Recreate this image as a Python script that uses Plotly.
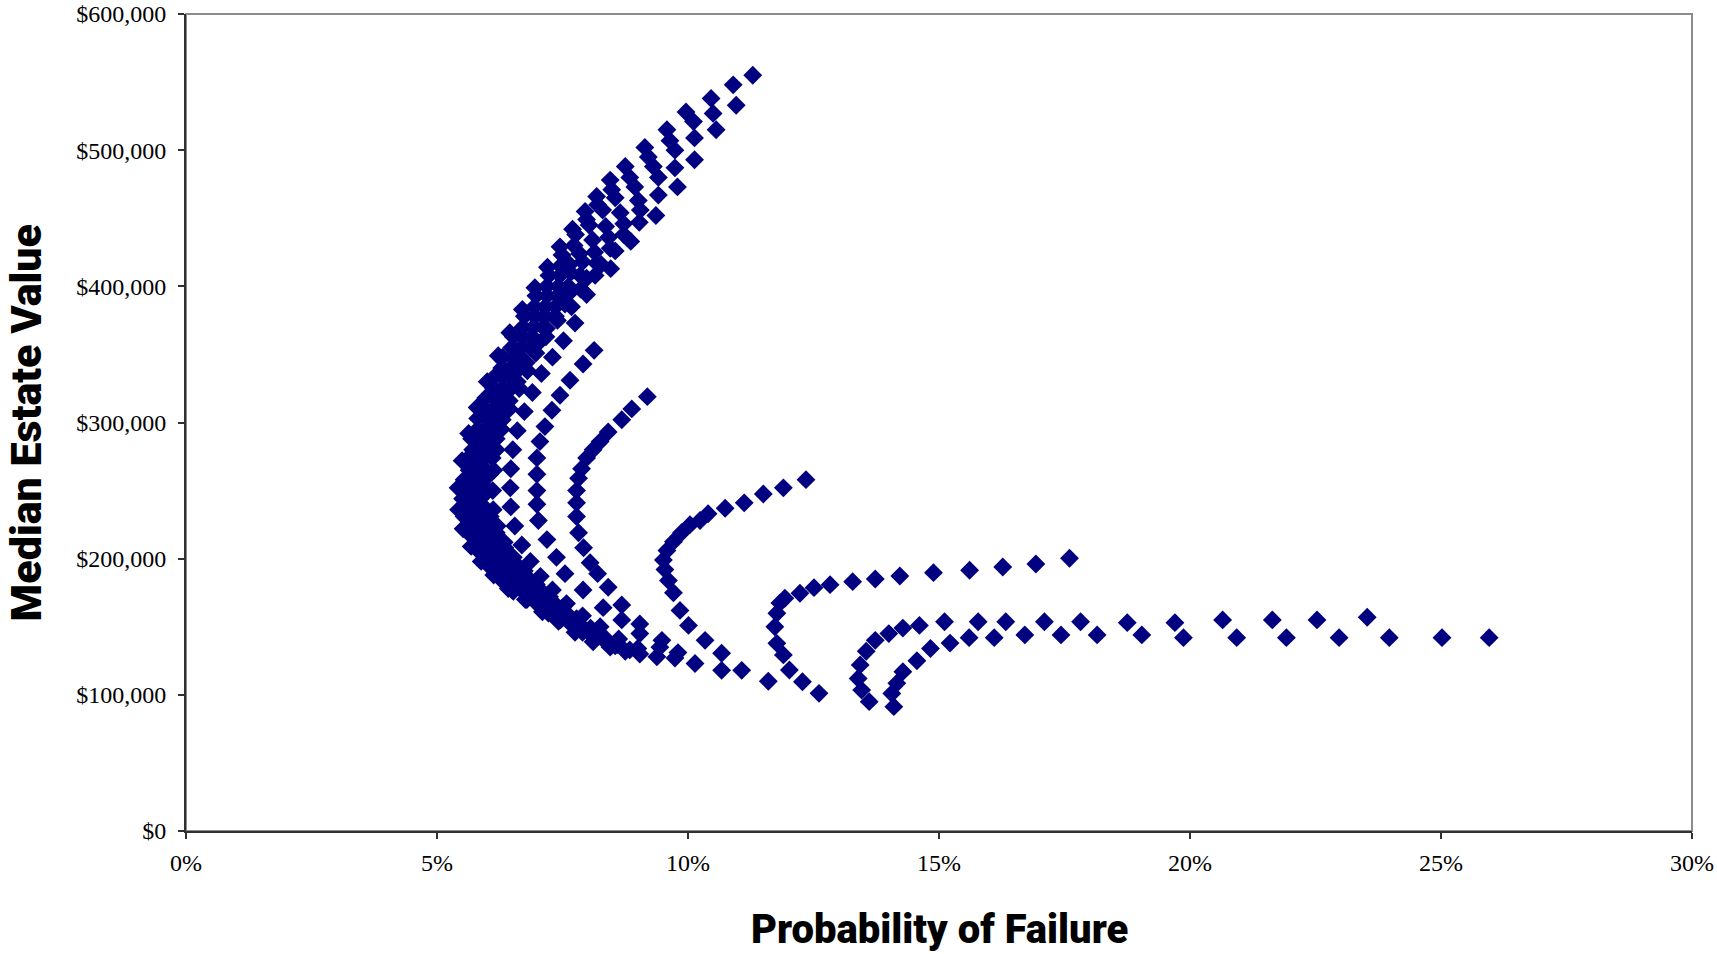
import plotly.graph_objects as go

# ---- data: probability of failure (%) and median estate value ($ thousands), one list pair per curve ----
pf_I0 = [11.29, 10.90, 10.46, 9.96, 9.58, 9.14, 8.75, 8.45, 8.18, 7.95, 7.70, 7.45, 7.20, 6.95, 6.70, 6.45, 6.22, 6.00,
         5.80, 5.63, 5.50, 5.42, 5.43, 5.52, 5.68, 5.88, 6.13, 6.42]
est_I0 = [555, 548, 538, 528, 515, 502, 488, 478, 466, 455, 442, 429, 414, 399, 383, 366, 349, 330,
          311, 292, 272, 252, 236, 222, 209, 198, 188, 178]

pf_I1 = [10.96, 10.50, 10.11, 9.64, 9.21, 8.84, 8.48, 8.20, 7.98, 7.76, 7.49, 7.23, 6.97, 6.74, 6.52, 6.31, 6.13,
         5.97, 5.81, 5.69, 5.60, 5.54, 5.51, 5.54, 5.65, 5.82, 6.03, 6.27, 6.52, 6.76]
est_I1 = [533, 527, 521, 507, 495, 480, 471, 460, 449, 438, 423, 408, 393, 378, 363, 348, 333,
          318, 303, 288, 273, 258, 244, 231, 218, 206, 195, 185, 176, 170]

pf_I2 = [10.56, 10.13, 9.74, 9.31, 8.94, 8.55, 8.30, 8.03, 7.73, 7.46, 7.19, 6.94, 6.71, 6.49, 6.29, 6.13, 5.96, 5.81,
         5.71, 5.64, 5.60, 5.61, 5.70, 5.84, 6.02, 6.24, 6.50, 6.79, 7.10]
est_I2 = [515, 509, 500, 488, 473, 465, 456, 445, 430, 415, 400, 385, 370, 355, 340, 325, 310, 295,
          280, 265, 250, 237, 224, 212, 200, 189, 179, 170, 161]

pf_I3 = [10.13, 9.74, 9.41, 9.01, 8.65, 8.36, 8.10, 7.84, 7.64, 7.45, 7.19, 6.95, 6.71, 6.50, 6.31, 6.14, 5.98,
         5.85, 5.77, 5.71, 5.69, 5.72, 5.84, 6.01, 6.21, 6.45, 6.71, 6.99, 7.22, 7.42]
est_I3 = [493, 487, 480, 463, 454, 444, 434, 424, 416, 408, 393, 378, 363, 348, 333, 318, 303,
          288, 273, 258, 244, 231, 218, 206, 195, 185, 176, 167, 160, 154]

pf_I4 = [9.79, 9.41, 9.05, 8.72, 8.42, 8.14, 7.90, 7.66, 7.42, 7.16, 6.92, 6.68, 6.47, 6.30, 6.13, 5.98, 5.88, 5.81,
         5.77, 5.78, 5.87, 6.01, 6.19, 6.41, 6.65, 6.91, 7.18, 7.46, 7.75]
est_I4 = [473, 467, 456, 446, 436, 425, 418, 410, 400, 385, 370, 355, 340, 325, 310, 295, 280, 265,
          250, 237, 225, 213, 202, 191, 181, 172, 163, 155, 146]

pf_I5 = [9.36, 9.03, 8.72, 8.45, 8.18, 7.85, 7.62, 7.40, 7.14, 6.90, 6.67, 6.48, 6.31, 6.14, 6.00, 5.92, 5.88, 5.86,
         5.89, 6.01, 6.18, 6.38, 6.61, 6.86, 7.12, 7.38, 7.64, 7.90, 8.11]
est_I5 = [452, 447, 438, 428, 417, 408, 400, 393, 378, 363, 348, 333, 318, 303, 288, 273, 258, 244,
          231, 219, 207, 197, 187, 178, 169, 161, 153, 146, 139]

pf_I6 = [8.86, 8.55, 8.27, 7.98, 7.66, 7.36, 7.11, 6.86, 6.65, 6.47, 6.29, 6.13, 6.03, 5.97, 5.94,
         5.96, 6.04, 6.18, 6.36, 6.58, 6.82, 7.08, 7.34, 7.60, 7.85, 8.10, 8.45]
est_I6 = [433, 426, 416, 406, 396, 385, 370, 355, 340, 325, 310, 295, 280, 265, 250,
          237, 225, 213, 202, 192, 182, 173, 165, 157, 150, 143, 135]

pf_I7 = [8.46, 8.15, 7.86, 7.55, 7.36, 7.18, 6.98, 6.78, 6.60, 6.44, 6.30, 6.18, 6.10, 6.05, 6.02,
         6.06, 6.18, 6.35, 6.55, 6.78, 7.03, 7.29, 7.55, 7.81, 8.07, 8.33, 8.55, 8.75]
est_I7 = [413, 408, 398, 387, 378, 369, 357, 344, 330, 316, 302, 288, 274, 262, 250,
          231, 219, 208, 197, 187, 178, 169, 161, 153, 146, 140, 136, 132]

pf_I8 = [7.98, 7.68, 7.40, 7.17, 6.97, 6.80, 6.64, 6.44, 6.28, 6.18, 6.13, 6.11,
         6.12, 6.20, 6.34, 6.52, 6.74, 6.98, 7.24, 7.50, 7.78, 8.06, 8.34, 8.60, 8.84, 9.04]
est_I8 = [394, 385, 375, 363, 351, 338, 325, 310, 295, 280, 265, 250,
          236, 224, 212, 201, 191, 181, 172, 164, 156, 149, 142, 137, 133, 130]

pf_I9 = [7.75, 7.52, 7.30, 7.08, 6.90, 6.74, 6.60, 6.51, 6.47, 6.46,
         6.47, 6.55, 6.69, 6.86, 7.06, 7.30, 7.58, 7.90, 8.25, 8.62, 9.00, 9.38]
est_I9 = [373, 360, 348, 336, 322, 308, 294, 280, 266, 252,
          238, 224, 210, 198, 187, 177, 167, 158, 150, 141, 134, 128]

pf_A = [8.13, 7.91, 7.65, 7.45, 7.29, 7.15, 7.05, 6.99, 6.99, 6.99, 6.99, 7.02, 7.19, 7.38, 7.55, 7.91, 8.31,
        8.68, 9.04, 9.44, 9.74]
est_A = [353, 343, 331, 320, 309, 297, 286, 274, 262, 250, 240, 228, 214, 201, 189, 177, 164,
         155, 145, 135, 127]

pf_B = [9.19, 8.88, 8.68, 8.41, 8.25, 8.11, 7.98, 7.88, 7.82, 7.78, 7.78, 7.78, 7.82, 7.92, 8.05, 8.20, 8.41,
        8.68, 9.04, 9.48, 9.80, 10.14, 10.67]
est_B = [319, 310, 302, 293, 286, 280, 274, 266, 259, 250, 241, 231, 219, 208, 197, 189, 179,
         166, 152, 140, 131, 123, 118]

pf_C = [12.35, 11.90, 11.50, 11.12, 10.74, 10.40, 10.24, 10.04, 9.87, 9.71, 9.58, 9.51, 9.54, 9.61, 9.71, 9.84,
        10.01, 10.34, 10.67, 11.07, 11.60]
est_C = [258, 252, 247.5, 241, 237, 233, 228, 225, 219, 212.5, 206, 199, 192, 184, 175, 162,
         151, 140, 130.5, 118, 110]

pf_D = [17.60, 16.93, 16.27, 15.61, 14.89, 14.22, 13.73, 13.28, 12.83, 12.51, 12.23, 11.93, 11.83, 11.77, 11.73,
        11.77, 11.90, 12.02, 12.28, 12.61]
est_D = [200.3, 196.1, 193.9, 191.5, 189.7, 187.3, 185.1, 183.1, 180.9, 178.7, 174.6, 170.9, 167.4, 159.9, 150.0,
         137.8, 129.3, 118.2, 109.6, 101.1]

pf_E = [13.61, 13.46, 13.39, 13.43, 13.55, 13.73, 14.00, 14.28, 14.61, 15.11, 15.78, 16.33, 17.10, 17.82, 18.75,
        19.70, 20.65, 21.64, 22.53, 23.53]
est_E = [95, 103.5, 112, 122, 132, 140, 145, 149, 151, 153.7, 153.7, 153.7, 153.7, 153.7, 153,
         153, 155, 155, 155, 157]

pf_F = [14.10, 14.06, 14.16, 14.28, 14.56, 14.83, 15.22, 15.60, 16.10, 16.71, 17.43, 18.15, 19.04, 19.87, 20.93,
        21.92, 22.97, 23.97, 25.02, 25.96]
est_F = [91.3, 101, 108.5, 117, 125, 134, 138, 142, 142, 144, 144, 144, 144, 142, 142,
         142, 142, 142, 142, 142]

x_tick_vals = [0, 5, 10, 15, 20, 25, 30]
x_tick_text = ["0%", "5%", "10%", "15%", "20%", "25%", "30%"]
y_tick_vals = [0, 100000, 200000, 300000, 400000, 500000, 600000]
y_tick_text = ["$0", "$100,000", "$200,000", "$300,000", "$400,000", "$500,000", "$600,000"]

x_title = "Probability of Failure"
y_title = "Median Estate Value"

curves = [(pf_I0, est_I0), (pf_I1, est_I1), (pf_I2, est_I2), (pf_I3, est_I3), (pf_I4, est_I4),
          (pf_I5, est_I5), (pf_I6, est_I6), (pf_I7, est_I7), (pf_I8, est_I8), (pf_I9, est_I9),
          (pf_A, est_A), (pf_B, est_B), (pf_C, est_C), (pf_D, est_D), (pf_E, est_E), (pf_F, est_F)]

fig = go.Figure()
for pf, est in curves:
    fig.add_trace(go.Scatter(
        x=pf, y=[v * 1000 for v in est], mode="markers", showlegend=False,
        marker=dict(symbol="diamond", size=14.5, color="#000080", line=dict(width=0)),
        hoverinfo="x+y"))

tick_font = dict(family="Liberation Serif, Times New Roman, serif", size=24, color="#000000")
title_family = "Roboto, Liberation Sans, Arial, sans-serif"

fig.update_layout(
    template="none",
    width=1717, height=954,
    margin=dict(l=186, r=25, t=14, b=123, autoexpand=False),
    paper_bgcolor="white", plot_bgcolor="white",
    xaxis=dict(range=[0, 30], tickmode="array", tickvals=x_tick_vals, ticktext=x_tick_text,
               ticks="outside", ticklen=6, tickwidth=1.5, tickcolor="#303030", ticklabelstandoff=3,
               showline=True, linecolor="#303030", linewidth=2, automargin=False,
               showgrid=False, zeroline=False, tickfont=tick_font, fixedrange=True),
    yaxis=dict(range=[0, 600000], tickmode="array", tickvals=y_tick_vals, ticktext=y_tick_text,
               ticks="outside", ticklen=6, tickwidth=1.5, tickcolor="#303030", ticklabelstandoff=7,
               showline=True, linecolor="#303030", linewidth=2, automargin=False,
               showgrid=False, zeroline=False, tickfont=tick_font, fixedrange=True),
    shapes=[dict(type="rect", xref="paper", yref="paper", x0=0, x1=1, y0=0, y1=1,
                 line=dict(color="#8c8c8c", width=2), layer="below")],
    annotations=[
        dict(text=x_title, xref="paper", yref="paper", x=0.5, y=-0.121, xanchor="center",
             yanchor="middle", showarrow=False,
             font=dict(family=title_family, size=40, color="#000000", weight=900)),
        dict(text=y_title, xref="paper", yref="paper", x=-0.1063, y=0.5, xanchor="center",
             yanchor="middle", showarrow=False, textangle=-90,
             font=dict(family=title_family, size=43, color="#000000", weight=900)),
    ],
)

fig.write_html("out.html", config={"displayModeBar": False},
               post_script="document.body.style.margin='0';")
